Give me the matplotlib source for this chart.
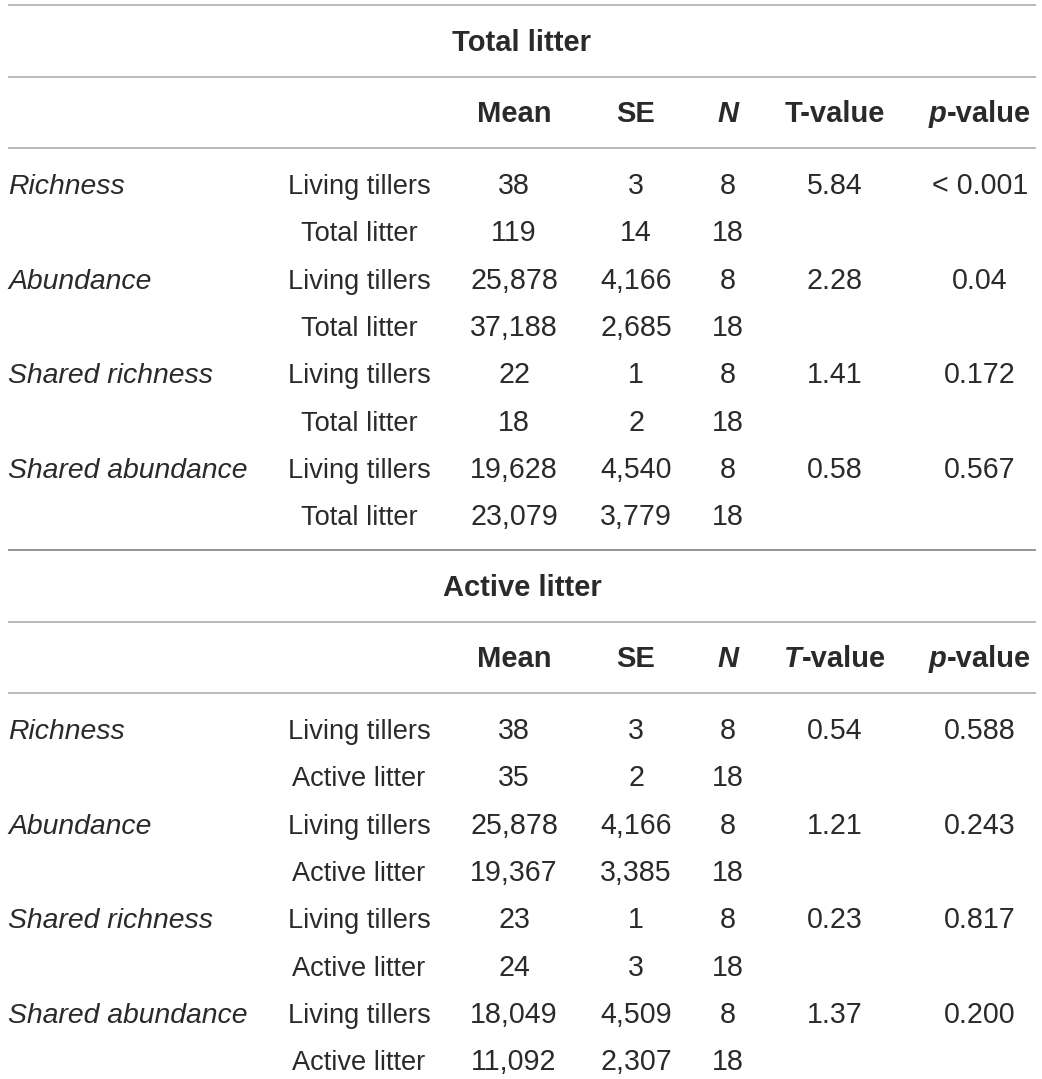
import matplotlib
matplotlib.use("Agg")
import matplotlib.pyplot as plt

# ---------------- data ----------------
measures = ["Richness", "Abundance", "Shared richness", "Shared abundance"]
groups_total = ["Living tillers", "Total litter"]
groups_active = ["Living tillers", "Active litter"]

total_mean = [38, 119, 25878, 37188, 22, 18, 19628, 23079]
total_se = [3, 14, 4166, 2685, 1, 2, 4540, 3779]
total_n = [8, 18, 8, 18, 8, 18, 8, 18]
total_t = ["5.84", "2.28", "1.41", "0.58"]
total_p = ["< 0.001", "0.04", "0.172", "0.567"]

active_mean = [38, 35, 25878, 19367, 23, 24, 18049, 11092]
active_se = [3, 2, 4166, 3385, 1, 3, 4509, 2307]
active_n = [8, 18, 8, 18, 8, 18, 8, 18]
active_t = ["0.54", "1.21", "0.23", "1.37"]
active_p = ["0.588", "0.243", "0.817", "0.200"]

# ---------------- layout ----------------
W, H = 1042, 1079
fig = plt.figure(figsize=(W / 100, H / 100), dpi=100)
ax = fig.add_axes([0, 0, 1, 1])
ax.set_xlim(0, W)
ax.set_ylim(H, 0)
ax.axis("off")

FONT = "Liberation Sans"
FS_TXT = 19.6    # group labels
FS_NUM = 20.6    # numbers
FS_IT = 20.4     # italic measure names
FS_BOLD = 21.0   # headers
TXT = "#2a2a2a"
x_left, x_right = 8, 1036
col_group = 359
col_mean, col_se, col_n, col_t, col_p = 514, 636, 728, 835, 980
row_h = 47.33

fig.canvas.draw()
renderer = fig.canvas.get_renderer()


def txt(x, y, s, fs, ha="center", style="normal", weight="normal"):
    ax.text(x, y, s, ha=ha, va="baseline", fontsize=fs, family=FONT,
            style=style, weight=weight, color=TXT)


def width_px(s, style, weight):
    t = ax.text(0, 0, s, fontsize=FS_BOLD, family=FONT, style=style,
                weight=weight)
    w = t.get_window_extent(renderer=renderer).width
    t.remove()
    return w


def mixed(xc, y, parts):
    widths = [width_px(s, st, "bold") for s, st in parts]
    total = sum(widths)
    x = xc - total / 2
    for (s, st), w in zip(parts, widths):
        ax.text(x, y, s, ha="left", va="baseline", fontsize=FS_BOLD,
                family=FONT, style=st, weight="bold", color=TXT)
        x += w


def hline(y, color="#a8a8a8"):
    ax.plot([x_left, x_right], [y, y], color=color, lw=1.1,
            solid_capstyle="butt")


def block(top, title, t_italic, groups, mean, se, n, tv, pv):
    hline(top)
    txt(522, top + 46, title, FS_BOLD, weight="bold")
    hline(top + 72)
    hy = top + 117
    mixed(col_mean, hy, [("Mean", "normal")])
    mixed(col_se, hy, [("SE", "normal")])
    mixed(col_n, hy, [("N", "italic")])
    if t_italic:
        mixed(col_t, hy, [("T", "italic"), ("-value", "normal")])
    else:
        mixed(col_t, hy, [("T-value", "normal")])
    mixed(col_p, hy, [("p", "italic"), ("-value", "normal")])
    hline(top + 143)
    base = top + 189
    for i in range(8):
        y = base + i * row_h
        if i % 2 == 0:
            txt(x_left, y, measures[i // 2], FS_IT, ha="left", style="italic")
            txt(col_t, y, tv[i // 2], FS_NUM)
            txt(col_p, y, pv[i // 2], FS_NUM)
        txt(col_group, y, groups[i % 2], FS_TXT)
        txt(col_mean, y, f"{mean[i]:,}", FS_NUM)
        txt(col_se, y, f"{se[i]:,}", FS_NUM)
        txt(col_n, y, str(n[i]), FS_NUM)


block(5, "Total litter", False, groups_total, total_mean, total_se,
      total_n, total_t, total_p)
block(550, "Active litter", True, groups_active, active_mean, active_se,
      active_n, active_t, active_p)
# darker separator between the two blocks
hline(550, color="#8c8c8c")

fig.savefig("out.png", dpi=100)
